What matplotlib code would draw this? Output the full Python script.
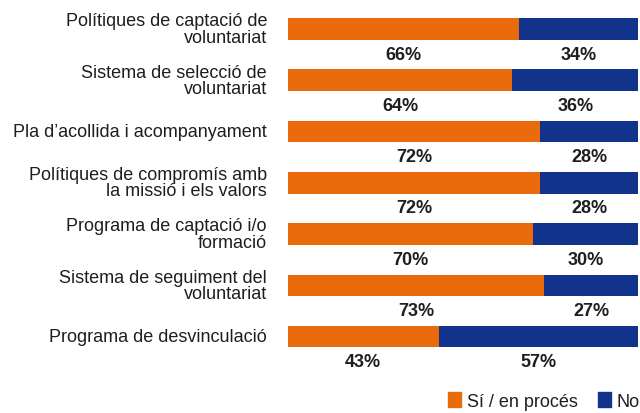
import numpy as np
import matplotlib
matplotlib.use("Agg")
import matplotlib.pyplot as plt
from matplotlib.patches import Patch

plt.rcParams['font.family'] = ['Liberation Sans', 'DejaVu Sans']

# Data
categories = [
    "Polítiques de captació de\nvoluntariat",
    "Sistema de selecció de\nvoluntariat",
    "Pla d’acollida i acompanyament",
    "Polítiques de compromís amb\nla missió i els valors",
    "Programa de captació i/o\nformació",
    "Sistema de seguiment del\nvoluntariat",
    "Programa de desvinculació",
]
si_vals = [66, 64, 72, 72, 70, 73, 43]
no_vals = [34, 36, 28, 28, 30, 27, 57]
series_names = ["Sí / en procés", "No"]

orange = "#EA6A0C"
blue = "#12338C"
text_col = "#1e1e1e"

fig = plt.figure(figsize=(6.4, 4.14), dpi=100)
ax = fig.add_axes([288 / 640, 0, 352 / 640, 1])

y = np.arange(len(categories))
ax.barh(y, si_vals, height=0.42, color=orange)
ax.barh(y, no_vals, left=si_vals, height=0.42, color=blue)

ax.set_xlim(0, 100.5)
ax.set_ylim(7.49, -0.585)
ax.axis("off")

for i, (s, n) in enumerate(zip(si_vals, no_vals)):
    ax.text(s / 2, i + 0.49, f"{s}%", ha="center", va="center",
            fontsize=13, fontweight="bold", color=text_col)
    ax.text(s + n / 2, i + 0.49, f"{n}%", ha="center", va="center",
            fontsize=13, fontweight="bold", color=text_col)
    ax.text(-21 / 352 * 100.5, i, categories[i], ha="right", va="center",
            multialignment="right", fontsize=13, color=text_col, linespacing=0.95)

handles = [Patch(color=orange), Patch(color=blue)]
fig.legend(handles, series_names, loc="lower right", bbox_to_anchor=(1.0, 0.008),
           ncol=2, frameon=False, fontsize=13, handlelength=0.72, handleheight=0.85,
           handletextpad=0.35, columnspacing=1.1, borderaxespad=0, borderpad=0,
           labelcolor=text_col)

fig.savefig("out.png", dpi=100)
